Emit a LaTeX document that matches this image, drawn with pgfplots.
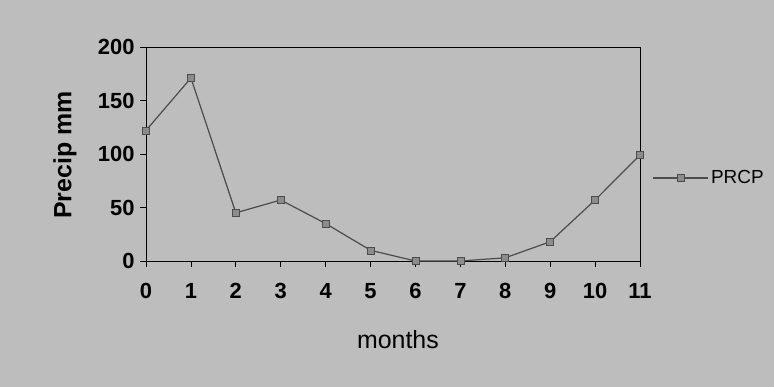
\documentclass[border=0pt]{standalone}
\usepackage{fontspec}
\setmainfont{Liberation Sans}
\usepackage{pgfplots}
\pgfplotsset{compat=1.18}
\definecolor{bggray}{gray}{0.74}
\definecolor{linegray}{gray}{0.30}
\definecolor{markgray}{gray}{0.55}
\begin{document}
\begin{tikzpicture}
\fill[bggray] (-146bp,-126bp) rectangle (628bp,261bp);
\begin{axis}[
  scale only axis,
  width=494bp, height=214bp,
  at={(0,0)}, anchor=south west,
  xmin=0, xmax=11, ymin=0, ymax=200,
  xtick={0,1,2,3,4,5,6,7,8,9,10,11},
  ytick={0,50,100,150,200},
  xtick pos=bottom, ytick pos=left,
  tick align=outside,
  major tick length=6bp,
  tick style={black, line width=0.8bp},
  axis line style={black, line width=0.9bp},
  axis background/.style={fill=bggray},
  /pgf/number format/assume math mode=true,
  ticklabel style={font=\bfseries\fontsize{22}{22}\selectfont},
  xticklabel style={yshift=-13bp},
  yticklabel style={xshift=-2bp},
  xlabel={months},
  ylabel={\bfseries Precip mm},
  xlabel style={font=\fontsize{25}{25}\selectfont, at={(axis description cs:0.51,-0.369)}, anchor=center},
  ylabel style={font=\fontsize{25}{25}\selectfont, at={(axis description cs:-0.164,0.495)}, anchor=center, rotate=0},
  legend style={draw=none, fill=none, at={(axis description cs:1.026,0.388)}, anchor=west, inner sep=0pt, outer sep=0pt,
    font=\fontsize{19}{19}\selectfont, legend cell align=left,
    /tikz/every even column/.append style={column sep=10bp}},
  legend image code/.code={
    \draw[mark repeat=2,mark phase=2,#1] plot coordinates {(0bp,0bp) (27bp,0bp) (55bp,0bp)};
  },
  clip=false,
]
\addplot[color=linegray, line width=1.2bp, mark=square*, mark size=3.5bp,
  mark options={fill=markgray, draw=linegray, line width=0.6bp}]
  coordinates {
  (0,122) (1,171) (2,45) (3,57) (4,35) (5,10) (6,0) (7,0) (8,3) (9,18) (10,57) (11,99)
  };
\addlegendentry{PRCP}
\end{axis}
\pgfresetboundingbox
\useasboundingbox (-146bp,-126bp) rectangle (628bp,261bp);
\end{tikzpicture}
\end{document}
